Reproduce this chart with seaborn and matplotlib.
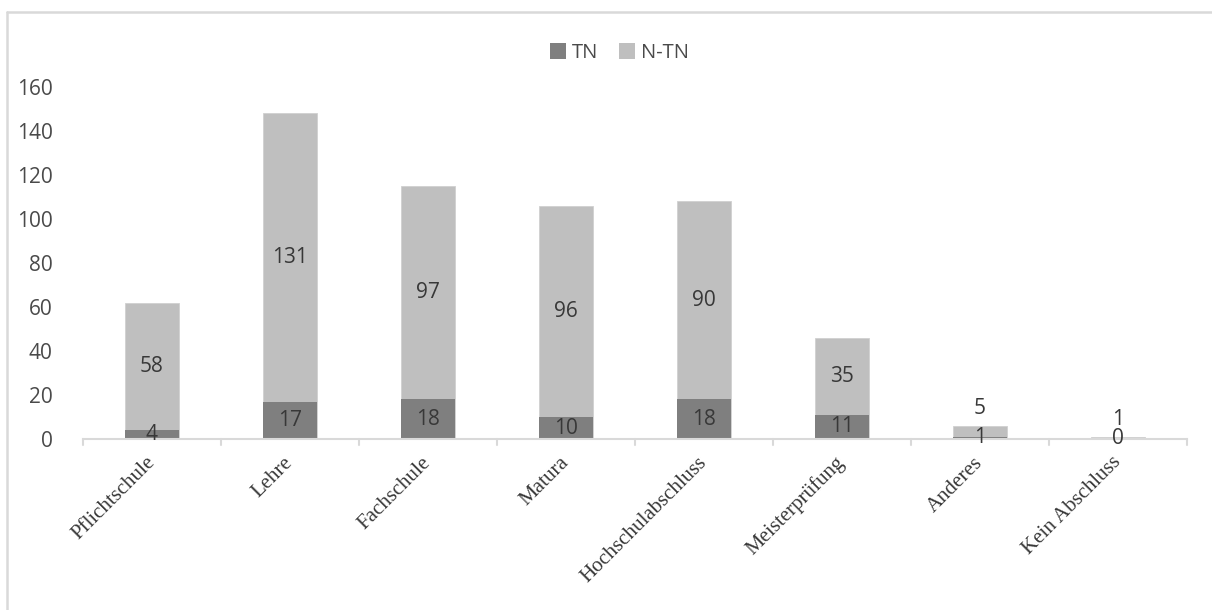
import matplotlib
matplotlib.use("Agg")
import matplotlib.pyplot as plt
from matplotlib.lines import Line2D
from matplotlib.patches import Patch
import seaborn as sns
import pandas as pd

# Education levels and participant counts
categories = ["Pflichtschule", "Lehre", "Fachschule", "Matura",
              "Hochschulabschluss", "Meisterprüfung", "Anderes", "Kein Abschluss"]
tn = [4, 17, 18, 10, 18, 11, 1, 0]
ntn = [58, 131, 97, 96, 90, 35, 5, 1]
series_names = ["TN", "N-TN"]
yticks = [0, 20, 40, 60, 80, 100, 120, 140, 160]

df = pd.DataFrame({"Abschluss": categories, "TN": tn, "N-TN": ntn})
df["Gesamt"] = df["TN"] + df["N-TN"]

DARK = "#7f7f7f"
LIGHT = "#bfbfbf"
AXIS = "#d9d9d9"
TXT = "#383838"
TICK_TXT = "#4a4a4a"

sns.set_theme(style="white")
plt.rcParams["font.family"] = ["Open Sans", "DejaVu Sans"]

fig = plt.figure(figsize=(12.12, 6.10), dpi=100)
ax = fig.add_axes([83 / 1212, (610 - 439) / 610, (1187 - 83) / 1212, 352 / 610])

# stacked bars: total in light grey, TN share drawn over it
sns.barplot(data=df, x="Abschluss", y="Gesamt", color=LIGHT, width=0.39,
            saturation=1, ax=ax, edgecolor="#d0d0d0", linewidth=0.6)
sns.barplot(data=df, x="Abschluss", y="TN", color=DARK, width=0.39,
            saturation=1, ax=ax, linewidth=0)

ax.set_ylim(0, 160)
ax.set_xlim(-0.5, len(categories) - 0.5)
ax.set_yticks(yticks)
ax.set_yticklabels([str(v) for v in yticks], fontsize=15, color=TICK_TXT)
ax.set_xlabel("")
ax.set_ylabel("")

for s in ["top", "right", "left"]:
    ax.spines[s].set_visible(False)
ax.spines["bottom"].set_color(AXIS)
ax.spines["bottom"].set_linewidth(1.5)
ax.tick_params(axis="y", length=0, pad=22)
ax.tick_params(axis="x", length=0)

# category separators on the baseline
for b in range(len(categories) + 1):
    ax.plot([b - 0.5, b - 0.5], [0, -2.6], color=AXIS, lw=1.5, clip_on=False)

ax.set_xticks(range(len(categories)))
ax.set_xticklabels(categories, rotation=45, ha="right", rotation_mode="anchor",
                   fontsize=15, color=TXT, family=["Liberation Serif", "DejaVu Serif"])
for lbl in ax.get_xticklabels():
    lbl.set_va("center")
ax.tick_params(axis="x", pad=15)

# value labels
for i, (a, b) in enumerate(zip(tn, ntn)):
    ax.text(i, a / 2, str(a), ha="center", va="center", fontsize=15, color=TXT)
    total = a + b
    if b >= 12:
        ax.annotate(str(b), (i, a + b / 2), ha="center", va="center",
                    fontsize=15, color=TXT)
    else:
        ax.annotate(str(b), (i, total), xytext=(0, 12.5), textcoords="offset points",
                    ha="center", va="center", fontsize=15, color=TXT)

handles = [Patch(facecolor=DARK, edgecolor="none"), Patch(facecolor=LIGHT, edgecolor="none")]
leg = fig.legend(handles, series_names, loc="center", bbox_to_anchor=(0.511, 0.913),
                 ncol=2, frameon=False, fontsize=14.5, handlelength=0.8, handleheight=0.8,
                 handletextpad=0.3, columnspacing=1.0)
for t in leg.get_texts():
    t.set_color(TICK_TXT)

# chart frame
fig.add_artist(Line2D([7 / 1212, 7 / 1212], [0, 1 - 12 / 610], transform=fig.transFigure,
                      color=AXIS, lw=1.8))
fig.add_artist(Line2D([7 / 1212, 1], [1 - 12 / 610, 1 - 12 / 610], transform=fig.transFigure,
                      color=AXIS, lw=1.8))

fig.savefig("out.png", dpi=100, facecolor="white")
